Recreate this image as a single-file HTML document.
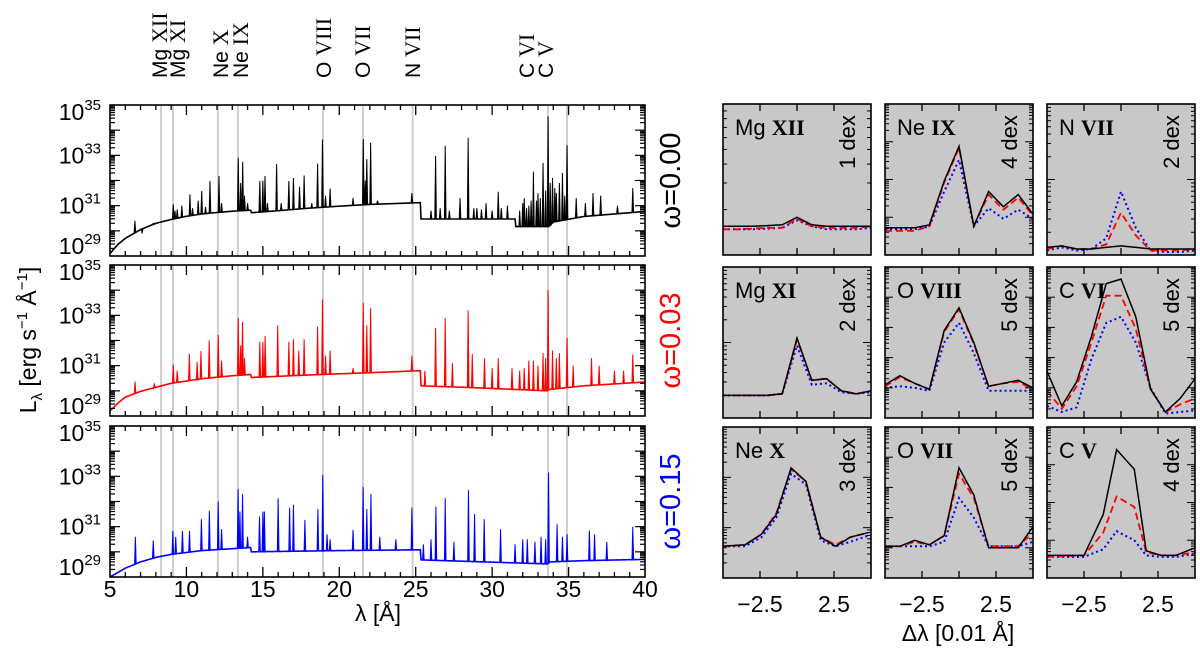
<!DOCTYPE html>
<html><head><meta charset="utf-8"><style>
html,body{margin:0;padding:0;background:#fff;}
svg{display:block;font-family:"Liberation Sans",sans-serif;}
</style></head><body>
<svg id="fig" xmlns="http://www.w3.org/2000/svg" width="1200" height="653" viewBox="0 0 1200 653">
<text x="378" y="621" text-anchor="middle" font-size="23">λ [Å]</text>
<text x="958" y="641" text-anchor="middle" font-size="23">Δλ [0.01 Å]</text>
<text x="36" y="340" transform="rotate(-90 36 340)" text-anchor="middle" font-size="23">L<tspan font-size="15" dy="6">λ</tspan><tspan dy="-6"> [erg s</tspan><tspan font-size="15" dy="-9">−1</tspan><tspan dy="9"> Å</tspan><tspan font-size="15" dy="-9">−1</tspan><tspan dy="9">]</tspan></text>
</svg>
<script>
// ---------- main spectra data (wavelength in Angstrom, log10 L) ----------
const contBlackLam = [5,5.5,6,7,8,9,10,11,12,13,14.2,14.25,16,18,20,22,25.3,25.35,31.5,31.55,33.7,34,36,40];
const contBlackLog = [29.1,29.45,29.7,30.05,30.3,30.45,30.58,30.67,30.73,30.78,30.82,30.72,30.8,30.9,30.98,31.05,31.12,30.47,30.47,30.17,30.17,30.35,30.57,30.77];
const contRedLam = [5,5.5,6,7,9,11,13,14.2,14.25,18,22,25.3,25.35,29,33.6,33.7,36,40];
const contRedLog = [29.2,29.5,29.75,29.98,30.3,30.48,30.6,30.65,30.53,30.63,30.72,30.8,30.2,30.12,30.0,30.05,30.2,30.35];
const contBlueLam = [5,6,7,8,9,11,14.2,14.25,20,25.3,25.35,33.6,33.8,36,40];
const contBlueLog = [29.0,29.35,29.6,29.78,29.9,30.05,30.17,30.0,30.05,30.08,29.68,29.52,29.6,29.65,29.7];

const linesBlackLam = [6.63,7.1,7.84,9.14,9.25,9.4,9.7,10.23,10.4,10.77,11.0,11.25,11.54,12.13,12.3,13.39,13.55,13.68,13.8,14.0,14.8,15.0,15.14,15.3,15.9,16.2,16.7,17.0,17.4,17.7,18.2,18.58,18.9,19.1,19.4,20.9,21.57,21.7,21.8,22.05,22.5,24.75,26.0,26.3,26.6,26.93,27.2,27.9,28.43,28.8,29.0,29.3,29.6,30.0,30.4,30.6,31.0,31.8,32.0,32.1,32.25,32.4,32.55,32.7,32.9,33.0,33.15,33.33,33.5,33.66,33.8,33.95,34.1,34.2,34.4,34.6,34.75,34.9,35.5,36.1,36.6,37.1,38.2,39.2];
const linesBlackLog = [30.4,29.9,30.3,31.05,30.8,30.85,31.0,31.45,30.9,31.2,31.58,30.95,31.98,32.18,31.1,32.9,31.9,32.75,31.4,31.1,31.98,32.0,32.18,31.1,32.65,31.1,31.98,32.1,31.75,32.2,31.1,32.67,33.63,31.4,31.68,31.3,33.65,32.0,32.85,33.5,31.2,31.5,30.8,32.98,30.9,33.38,30.8,31.3,33.7,30.9,30.9,30.85,31.1,30.8,31.55,30.9,31.0,30.8,31.1,31.3,30.9,31.0,31.2,32.35,31.2,31.5,31.3,32.7,31.6,34.55,31.9,32.1,31.7,31.5,31.9,32.3,31.4,33.4,31.3,31.1,31.5,31.4,31.0,31.7];
const linesRedLam = [6.64,7.9,9.14,9.4,10.19,10.7,10.95,11.49,12.08,12.3,13.39,13.55,13.67,13.8,14.8,15.0,15.15,15.97,16.7,17.0,17.35,17.7,18.58,18.9,19.1,19.4,20.9,21.57,21.8,22.05,24.75,25.6,26.3,26.93,27.4,28.43,28.7,29.5,30.0,30.4,31.3,31.8,32.1,32.4,32.7,33.0,33.33,33.5,33.66,33.95,34.2,34.4,34.9,35.3,36.5,37.0,38.0,38.6,39.2];
const linesRedLog = [30.37,30.3,31.04,30.8,31.47,31.15,31.58,32.0,32.22,31.2,32.9,31.8,32.75,31.3,31.95,31.95,32.18,32.6,31.95,32.05,31.6,32.05,32.55,33.63,31.4,31.6,30.9,33.5,32.6,33.3,31.4,30.8,32.5,32.9,31.1,33.2,31.47,31.3,30.9,31.3,30.9,30.8,30.9,31.2,31.2,31.0,31.5,31.3,34.0,31.6,31.3,31.5,32.1,31.0,31.3,31.0,30.8,30.8,31.45];
const linesBlueLam = [6.66,7.83,9.11,9.3,9.74,10.2,10.98,11.5,12.08,12.3,13.38,13.5,13.67,14.0,14.78,15.0,15.1,16.0,16.75,17.0,17.75,18.6,18.92,19.2,19.4,20.9,21.56,21.8,22.07,22.65,23.7,24.75,25.5,26.0,26.32,26.93,27.5,28.45,28.85,29.48,30.55,31.5,32.0,32.3,32.8,33.2,33.5,33.69,34.25,34.6,34.9,36.36,36.7,37.5,39.2];
const linesBlueLog = [30.6,30.45,30.83,30.6,30.83,30.83,31.3,31.63,32.0,30.9,32.5,31.6,32.3,30.6,31.4,31.6,31.6,32.13,31.75,31.87,31.27,31.7,33.06,30.7,30.5,30.87,32.58,31.7,32.3,30.6,30.5,31.76,30.3,30.5,31.8,32.13,30.4,32.45,31.5,31.3,30.9,30.3,30.5,30.5,30.4,30.6,30.5,33.15,31.1,30.6,30.7,30.85,30.7,30.4,31.0];

const markerLam = [8.34,9.12,12.06,13.37,18.93,21.55,24.8,33.65,34.9];
const xTickLabels = [5,10,15,20,25,30,35,40];
const yTickLabels = [29,31,33,35];

// ---------- zoomed line profiles (delta lambda in 0.01 A, fraction of dex span) ----------
const dxUniform = [-5,-4,-3,-2,-1,0,1,2,3,4,5];
const mgxiiBlack = [0.19,0.19,0.19,0.195,0.2,0.25,0.2,0.19,0.19,0.19,0.19];
const mgxiiRed = [0.17,0.17,0.175,0.18,0.18,0.24,0.19,0.18,0.18,0.18,0.19];
const mgxiiBlue = [0.17,0.17,0.17,0.175,0.18,0.23,0.19,0.17,0.17,0.17,0.18];
const neixBlack = [0.18,0.18,0.18,0.2,0.49,0.72,0.19,0.42,0.32,0.4,0.27];
const neixRed = [0.16,0.16,0.16,0.19,0.48,0.71,0.19,0.40,0.30,0.38,0.26];
const neixBlue = [0.17,0.17,0.17,0.19,0.42,0.63,0.19,0.31,0.24,0.30,0.24];
const nviiBlack = [0.05,0.06,0.04,0.04,0.05,0.06,0.05,0.04,0.04,0.04,0.04];
const nviiRed = [0.04,0.06,0.04,0.04,0.07,0.28,0.13,0.03,0.03,0.03,0.04];
const nviiBlue = [0.03,0.05,0.03,0.04,0.11,0.42,0.18,0.03,0.02,0.02,0.03];
const mgxiBlack = [0.15,0.15,0.15,0.15,0.16,0.53,0.25,0.26,0.18,0.16,0.18];
const mgxiRed = [0.15,0.15,0.15,0.15,0.16,0.52,0.25,0.26,0.18,0.16,0.18];
const mgxiBlue = [0.15,0.15,0.15,0.15,0.16,0.48,0.22,0.23,0.17,0.16,0.17];
const oviiiBlack = [0.22,0.28,0.23,0.19,0.58,0.73,0.5,0.21,0.23,0.25,0.2];
const oviiiRed = [0.21,0.27,0.23,0.19,0.57,0.72,0.49,0.21,0.23,0.24,0.19];
const oviiiBlue = [0.2,0.21,0.2,0.18,0.5,0.63,0.43,0.18,0.18,0.18,0.18];
const cviBlack = [0.31,0.08,0.24,0.54,0.89,0.92,0.67,0.19,0.04,0.13,0.26];
const cviRed = [0.18,0.06,0.21,0.5,0.81,0.81,0.59,0.19,0.04,0.09,0.13];
const cviBlue = [0.08,0.04,0.07,0.39,0.63,0.67,0.5,0.2,0.03,0.04,0.05];
const dxNeX = [-5,-3.5,-2.4,-1.4,-0.4,0.6,1.6,2.6,3.6,4.8];
const nexBlack = [0.21,0.22,0.29,0.42,0.73,0.64,0.27,0.21,0.27,0.30];
const nexRed = [0.21,0.22,0.29,0.43,0.72,0.64,0.27,0.22,0.27,0.30];
const nexBlue = [0.21,0.21,0.27,0.40,0.69,0.62,0.25,0.21,0.24,0.28];
const oviiBlack = [0.21,0.21,0.25,0.22,0.28,0.73,0.55,0.2,0.2,0.2,0.34];
const oviiRed = [0.21,0.21,0.24,0.22,0.28,0.69,0.53,0.21,0.21,0.21,0.30];
const oviiBlue = [0.21,0.21,0.21,0.21,0.24,0.53,0.40,0.21,0.21,0.21,0.24];
const dxCV = [-5,-2.5,-1.2,-0.3,0.9,1.7,2.7,3.7,5];
const cvBlack = [0.15,0.15,0.42,0.85,0.72,0.18,0.15,0.15,0.2];
const cvRed = [0.14,0.15,0.30,0.54,0.47,0.17,0.15,0.15,0.17];
const cvBlue = [0.14,0.14,0.19,0.31,0.25,0.15,0.14,0.14,0.16];
const dxTickLabels = [-2.5,2.5];

const NS = "http://www.w3.org/2000/svg";
const svg = document.getElementById('fig');
function mk(tag, attrs, parent){
  const e = document.createElementNS(NS, tag);
  for (const k in attrs) e.setAttribute(k, attrs[k]);
  (parent||svg).appendChild(e);
  return e;
}
// ---------- left panels ----------
const LX0 = 110, LX1 = 645, LAM0 = 5, LAM1 = 40, LOG0 = 29, LOG1 = 35, PH = 151;
const panelTops = [105,265,426];
function xl(l){ return LX0 + (l-LAM0)/(LAM1-LAM0)*(LX1-LX0); }
function yl(v, top){ return top + PH - (v-LOG0)/(LOG1-LOG0)*PH; }
function interp(xs, ys, x){
  if (x <= xs[0]) return ys[0];
  for (let i=1;i<xs.length;i++){ if (x <= xs[i]) { const t=(x-xs[i-1])/(xs[i]-xs[i-1]); return ys[i-1]+t*(ys[i]-ys[i-1]); } }
  return ys[ys.length-1];
}
const spectra = [
  {cl:contBlackLam, cv:contBlackLog, ll:linesBlackLam, lv:linesBlackLog, color:'#000', label:'ω=0.00', name:'omega-0.00'},
  {cl:contRedLam, cv:contRedLog, ll:linesRedLam, lv:linesRedLog, color:'#ff0000', label:'ω=0.03', name:'omega-0.03'},
  {cl:contBlueLam, cv:contBlueLog, ll:linesBlueLam, lv:linesBlueLog, color:'#0000ff', label:'ω=0.15', name:'omega-0.15'}
];
spectra.forEach((s, pi) => {
  const top = panelTops[pi];
  const g = mk('g', {});
  
  
  markerLam.forEach(l => {
    const m = mk('line', {x1:xl(l), x2:xl(l), y1:top, y2:top+PH, stroke:'#cfcfcf', 'stroke-width':2}, g);
    
    
  });
  const pts = [];
  for (let l=LAM0; l<=LAM1+1e-9; l+=0.05) pts.push(xl(l).toFixed(2)+','+yl(interp(s.cl,s.cv,l),top).toFixed(2));
  const c = mk('polyline', {points:pts.join(' '), fill:'none', stroke:s.color, 'stroke-width':1.6}, g);
  
  
  s.ll.forEach((l, i) => {
    const base = interp(s.cl, s.cv, l);
    const x = xl(l);
    const ln = mk('path', {d:`M${x-0.8},${yl(base,top)} L${x},${yl(s.lv[i],top)} L${x+0.8},${yl(base,top)} Z`, fill:s.color, stroke:s.color, 'stroke-width':1}, g);
    
    
  });
  const fr = mk('rect', {x:LX0, y:top, width:LX1-LX0, height:PH, fill:'none', stroke:'#000', 'stroke-width':1.6}, g);
  
  
  for (let l=6; l<LAM1; l++){
    const len = (l%5===0) ? 10 : 5;
    const t1 = mk('line', {x1:xl(l), x2:xl(l), y1:top+PH, y2:top+PH-len, stroke:'#000', 'stroke-width':1.3}, g);
    
    
    const t2 = mk('line', {x1:xl(l), x2:xl(l), y1:top, y2:top+len, stroke:'#000', 'stroke-width':1.3}, g);
    
    
  }
  for (let d=LOG0; d<LOG1; d++){
    for (let m=1; m<=9; m++){
      const v = d + Math.log10(m);
      const len = m===1 ? 10 : 5;
      const y = yl(v, top);
      if (m===1 && d===LOG0) continue;
      const a = mk('line', {x1:LX0, x2:LX0+len, y1:y, y2:y, stroke:'#000', 'stroke-width':1.2}, g);
      
      
      const b = mk('line', {x1:LX1, x2:LX1-len, y1:y, y2:y, stroke:'#000', 'stroke-width':1.2}, g);
      
      
    }
  }
  yTickLabels.forEach(v => {
    let by = yl(v, top) + 8;
    by = Math.max(top + 15, Math.min(top + PH - 2, by));
    const t = mk('text', {x:101, y:by, 'text-anchor':'end', 'font-size':23, fill:'#000'}, g);
    
    
    t.appendChild(document.createTextNode('10'));
    const sp = mk('tspan', {dy:-10, 'font-size':15}, t);
    sp.textContent = String(v);
  });
  const cy = top + PH/2;
  const ol = mk('text', {x:680, y:cy, transform:`rotate(-90 680 ${cy})`, 'text-anchor':'middle', 'font-size':29, fill:s.color}, g);
  
  
  ol.textContent = s.label;
});
xTickLabels.forEach(v => {
  const t = mk('text', {x:xl(v), y:597, 'text-anchor':'middle', 'font-size':23});
  
  
  t.textContent = String(v);
});
// ---------- zoom panels ----------
const colX = [723,885,1047], rowY = [104,267,427], SW = 148, SH = 151;
const zoomPanels = [
  {r:0,c:0,elem:'Mg',ion:'XII',dex:1,dx:dxUniform,b:mgxiiBlack,rd:mgxiiRed,bl:mgxiiBlue},
  {r:0,c:1,elem:'Ne',ion:'IX',dex:4,dx:dxUniform,b:neixBlack,rd:neixRed,bl:neixBlue},
  {r:0,c:2,elem:'N',ion:'VII',dex:2,dx:dxUniform,b:nviiBlack,rd:nviiRed,bl:nviiBlue},
  {r:1,c:0,elem:'Mg',ion:'XI',dex:2,dx:dxUniform,b:mgxiBlack,rd:mgxiRed,bl:mgxiBlue},
  {r:1,c:1,elem:'O',ion:'VIII',dex:5,dx:dxUniform,b:oviiiBlack,rd:oviiiRed,bl:oviiiBlue},
  {r:1,c:2,elem:'C',ion:'VI',dex:5,dx:dxUniform,b:cviBlack,rd:cviRed,bl:cviBlue},
  {r:2,c:0,elem:'Ne',ion:'X',dex:3,dx:dxNeX,b:nexBlack,rd:nexRed,bl:nexBlue},
  {r:2,c:1,elem:'O',ion:'VII',dex:5,dx:dxUniform,b:oviiBlack,rd:oviiRed,bl:oviiBlue},
  {r:2,c:2,elem:'C',ion:'V',dex:4,dx:dxCV,b:cvBlack,rd:cvRed,bl:cvBlue}
];
zoomPanels.forEach(p => {
  const x0 = colX[p.c], y0 = rowY[p.r];
  const xs = d => x0 + (d+5)/10*SW;
  const ys = f => y0 + SH - f*SH;
  const g = mk('g', {});
  
  
  const bg = mk('rect', {x:x0, y:y0, width:SW, height:SH, fill:'#c8c8c8'}, g);
  
  
  const clipId = 'clip' + p.r + p.c;
  const cp = mk('clipPath', {id:clipId}, g);
  mk('rect', {x:x0, y:y0, width:SW, height:SH}, cp);
  const nm = mk('text', {x:x0+12, y:y0+31, 'font-size':22}, g);
  
  
  nm.appendChild(document.createTextNode(p.elem + ' '));
  const io = mk('tspan', {'font-family':'"Liberation Serif", serif', 'font-weight':'bold', 'font-size':22}, nm);
  io.textContent = p.ion;
  const dxl = mk('text', {x:x0+132, y:y0+38, transform:`rotate(-90 ${x0+132} ${y0+38})`, 'text-anchor':'middle', 'font-size':22}, g);
  
  
  dxl.textContent = p.dex + ' dex';
  const series = [
    {v:p.bl, color:'#0000ff', dash:'2,3', w:2, n:'profile-omega-0.15'},
    {v:p.rd, color:'#ff0000', dash:'7,4', w:1.8, n:'profile-omega-0.03'},
    {v:p.b, color:'#000', dash:'none', w:1.5, n:'profile-omega-0.00'}
  ];
  series.forEach(s => {
    const pts = s.v.map((f,i) => xs(p.dx[i]).toFixed(1)+','+ys(f).toFixed(1)).join(' ');
    const pl = mk('polyline', {points:pts, fill:'none', stroke:s.color, 'stroke-width':s.w, 'stroke-dasharray':s.dash, 'clip-path':`url(#${clipId})`}, g);
    
    
  });
  [-2.5,0,2.5].forEach(d => {
    const a = mk('line', {x1:xs(d), x2:xs(d), y1:y0, y2:y0+7, stroke:'#000', 'stroke-width':1.3}, g);
    
    
    const b = mk('line', {x1:xs(d), x2:xs(d), y1:y0+SH, y2:y0+SH-7, stroke:'#000', 'stroke-width':1.3}, g);
    
    
  });
  for (let d=0; d<p.dex; d++){
    for (let m=1; m<=9; m++){
      const f = (d + Math.log10(m))/p.dex;
      if (m===1 && d===0) continue;
      const len = m===1 ? 8 : 4;
      const y = ys(f);
      const a = mk('line', {x1:x0, x2:x0+len, y1:y, y2:y, stroke:'#000', 'stroke-width':1}, g);
      
      
      const b = mk('line', {x1:x0+SW, x2:x0+SW-len, y1:y, y2:y, stroke:'#000', 'stroke-width':1}, g);
      
      
    }
  }
  const fr = mk('rect', {x:x0, y:y0, width:SW, height:SH, fill:'none', stroke:'#000', 'stroke-width':1.6}, g);
  
  
  if (p.r === 2){
    dxTickLabels.forEach(v => {
      const t = mk('text', {x:xs(v), y:612, 'text-anchor':'middle', 'font-size':23}, g);
      
      
      t.textContent = (v<0 ? '−' : '') + Math.abs(v).toFixed(1);
    });
  }
});
// ---------- top ion labels ----------
const topLabels = [
  ['Mg','XII',159],['Mg','XI',177],['Ne','X',220],['Ne','IX',240],['O','VIII',323],['O','VII',362],['N','VII',412],['C','VI',526],['C','V',545]
];
topLabels.forEach(t => {
  const bx = t[2] + 8;
  const e = mk('text', {x:bx, y:78, transform:`rotate(-90 ${bx} 78)`, 'font-size':21});
  
  
  e.appendChild(document.createTextNode(t[0] + ' '));
  const s = mk('tspan', {'font-family':'"Liberation Serif", serif', 'font-size':22}, e);
  s.textContent = t[1];
});
</script>
</body></html>
